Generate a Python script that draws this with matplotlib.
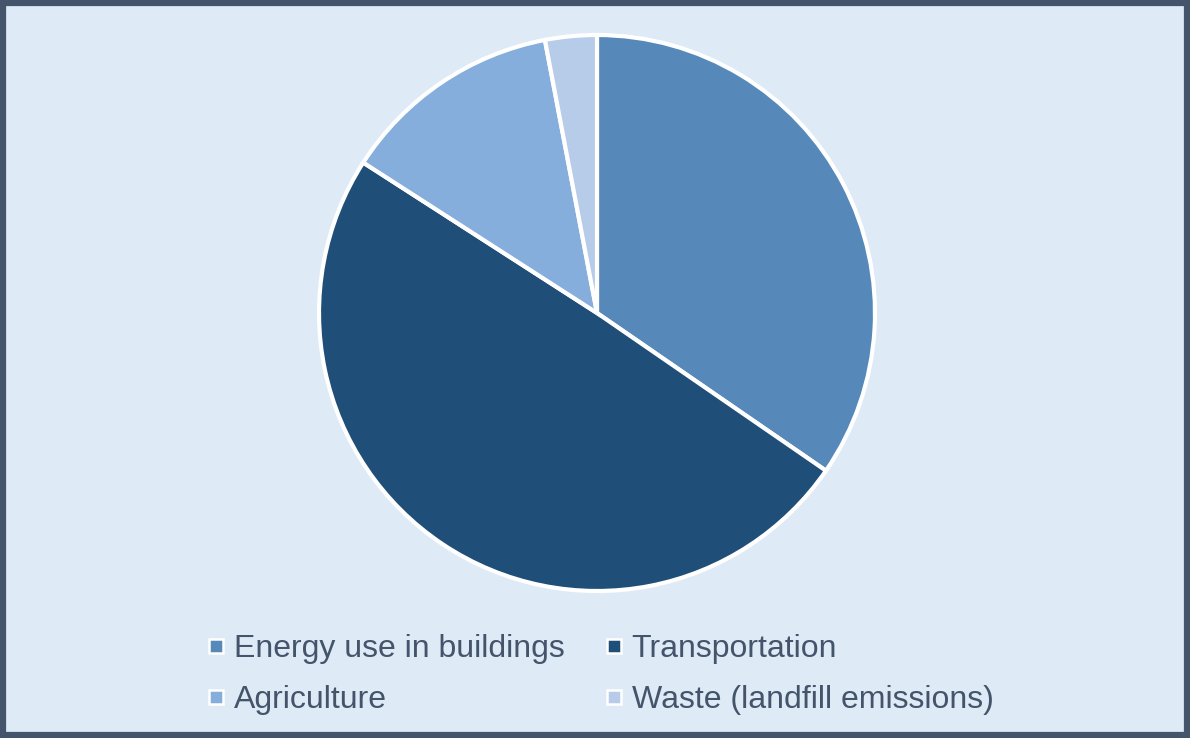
import matplotlib.pyplot as plt
from matplotlib.lines import Line2D
from matplotlib.patches import Rectangle

# data
sectors = ["Energy use in buildings", "Transportation", "Agriculture", "Waste (landfill emissions)"]
shares = [34.6, 49.5, 12.9, 3.0]
colors = ["#5689B9", "#1F4E78", "#85AEDC", "#B7CCE8"]

bg = "#DEEAF6"
border = "#44546A"

plt.rcParams["font.family"] = ["Liberation Sans", "DejaVu Sans"]

fig = plt.figure(figsize=(11.9, 7.38), dpi=100)
fig.patch.set_facecolor(bg)

# pie axes: centre (597, 313) px, radius 278 px
ax = fig.add_axes([319 / 1190, (738 - 313 - 278) / 738, 556 / 1190, 556 / 738])
ax.pie(shares, colors=colors, startangle=90, counterclock=False,
       wedgeprops=dict(edgecolor="white", linewidth=3))
ax.set_xlim(-1, 1)
ax.set_ylim(-1, 1)
ax.set_aspect("equal")
ax.axis("off")

# legend with small square markers, filled row by row
handles = [Line2D([], [], linestyle="none", marker="s", markersize=10,
                  markerfacecolor=c, markeredgecolor="white", markeredgewidth=1.8)
           for c in colors]
order = [0, 2, 1, 3]
fig.legend([handles[i] for i in order], [sectors[i] for i in order], ncol=2,
           loc="center", bbox_to_anchor=(0.505, 0.086),
           frameon=False, fontsize=23, labelcolor=border, handlelength=0.5,
           handletextpad=0.3, columnspacing=1.3, labelspacing=0.65)

# outer frame
fig.patches.append(Rectangle((0.0025, 0.004), 0.995, 0.992, transform=fig.transFigure,
                             fill=False, edgecolor=border, linewidth=4.5))

fig.savefig("out.png", dpi=100, facecolor=bg)
